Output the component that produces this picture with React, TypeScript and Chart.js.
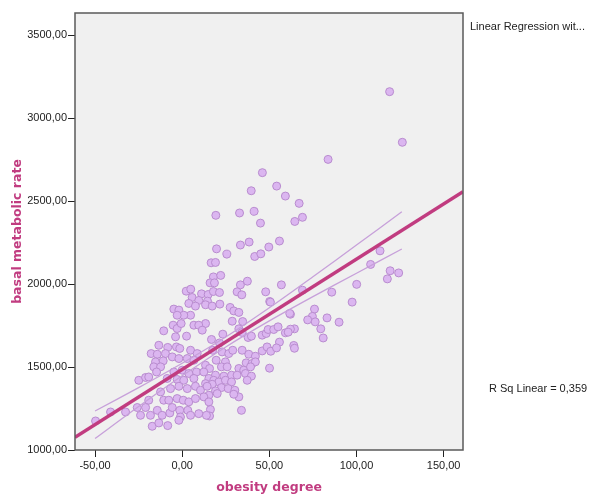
import React, { useEffect, useRef } from "react";
import { Chart, registerables } from "chart.js";

Chart.register(...registerables);

// obesity degree (x) and basal metabolic rate (y) of the observations
const obesity: number[] = [
  119, 126.3, 83.7, 67.1, 64.6, 69, 113.5, 108.1, 119.3, 124.2, 117.7, 100.1, 85.8, 69, 97.5, 75.9, 74.7, 72, 76.3, 83.1, 90, 79.5, 80.9, 62.1, 64.4, 62.1, 64, 64.4,
  46, 54.2, 39.6, 59.2, 19.3, 32.9, 41.3, 44.9, 33.4, 38.4, 55.8, 19.7, 25.6, 49.7, 41.6, 45.1, 16.6, 19.1, 17.9, 22.1, 16, 18.5, 2.3, 4.9, 11.1, 14.9, 17.9, 21.4, 33.4, 37.4, 31.5, 34.2, 47.9, 56.9, 5.7, 9.5, 14.5, 50.2,
  13.4, 17.2, 21.6, 27.5, 29.6, 32.5, 50.6, 28.7, 34.7, 61.7, 13.4, 16.8, 21.4, 23.3, 32.5, 34.4, 37.8, 39.7, 45.9, 48.2, 49.3, 52.5, 55, 59.2, 60.8, 55.8, 45.9, 48.7, 50.8, 54.1, 17.5, 22.9, 26.7, 29, 34.4, 38.2, 42, 19.5, 24.8, 36.7, 40.1, 42, 50.1, 13.4, 15.7, 22.5, 25.8, 32.5, 35.3, 39.2, 19.1, 23.9, 28.3, 31.5, 36.3, 39.7, 15.3, 18.1, 21, 24.8, 28.3, 37.3, 13.4, 17.2, 22.5, 26.4, 30.2, 32.5, 29.6, 19.1, 15.3, 20.1, 16.2, 34, 15.7,
  -4.8, -1.9, 3.8, 7.6, 4.8, 0.9, -2.9, -5.2, -2.9, -0.6, 6.7, 9.5, 11.5, -10.6, -3.8, 2.5, -13.4, -8.3, -3.3, -1.4, 4.8, 8.6, -17.8, -14.3, -9.6, -5.7, -1.9, 2.9, 6.7, -15.3, -10.9, -16.3, -12.4, -14.7, -24.9, -21, -19.2, -4.8, 0, 3.8, 8.2, 12.4, -8.6, -2.9, 0.9, 6.7, -12.4, -6.7, -1.9, 2.9, 7.6, 10.5, 14.3, -10.6, -7.7, -2.9, 0.6, 3.8, 7.6, 12.4, 15.3, -19.2, -21, -23.9, -18.2, -14.3, -11.5, -7.1, -5.7, -1.4, -1, 3.2, 4.8, 9.5, 13.9, -17.2, -13.4, -8.3, -1.9, -25.8, -32.5, -41.1, -49.7,
];
const bmr: number[] = [
  3159, 2854, 2751, 2486, 2377, 2402, 2200, 2118, 2080, 2067, 2031, 1998, 1951, 1963, 1891, 1849, 1805, 1784, 1772, 1796, 1770, 1730, 1675, 1818, 1730, 1728, 1630, 1613,
  2671, 2590, 2562, 2530, 2414, 2428, 2438, 2367, 2235, 2253, 2259, 2212, 2180, 2223, 2166, 2182, 2128, 2130, 2043, 2052, 2007, 2007, 1957, 1969, 1941, 1937, 1955, 1949, 1995, 2017, 1953, 1935, 1953, 1995, 1919, 1901, 1897, 1895,
  1875, 1867, 1879, 1859, 1838, 1829, 1891, 1776, 1774, 1823, 1762, 1666, 1645, 1698, 1730, 1708, 1678, 1686, 1692, 1702, 1726, 1726, 1742, 1706, 1710, 1650, 1597, 1621, 1595, 1615, 1601, 1591, 1581, 1601, 1601, 1577, 1565, 1541, 1531, 1525, 1521, 1531, 1493, 1511, 1491, 1501, 1501, 1491, 1481, 1501, 1451, 1445, 1451, 1451, 1461, 1445, 1431, 1420, 1410, 1420, 1410, 1420, 1400, 1396, 1376, 1370, 1360, 1320, 1336, 1356, 1330, 1340, 1244, 1239, 1205,
  1849, 1843, 1883, 1867, 1812, 1812, 1812, 1752, 1732, 1762, 1752, 1752, 1722, 1718, 1682, 1686, 1631, 1618, 1621, 1612, 1601, 1581, 1581, 1577, 1581, 1561, 1551, 1551, 1541, 1531, 1537, 1501, 1501, 1470, 1420, 1437, 1440, 1470, 1481, 1461, 1470, 1470, 1431, 1425, 1420, 1431, 1350, 1370, 1384, 1370, 1384, 1360, 1384, 1300, 1300, 1310, 1300, 1290, 1310, 1320, 1290, 1300, 1256, 1209, 1209, 1239, 1209, 1223, 1256, 1239, 1199, 1239, 1209, 1219, 1209, 1143, 1163, 1147, 1179, 1256, 1229, 1229, 1175,
];

// fitted regression line (end points at the axis limits)
const fitX: number[] = [-61.5, 161.1];
const fitY: number[] = [1076, 2556];

// 95% confidence band of the mean
const ciX: number[] = [-50, -25, 0, 25, 50, 75, 100, 126];
const ciUpper: number[] = [1235, 1376, 1523, 1681, 1857, 2044, 2235, 2435];
const ciLower: number[] = [1069, 1262, 1447, 1621, 1778, 1924, 2065, 2211];

// axis ticks
const xTicks: number[] = [-50, 0, 50, 100, 150];
const yTicks: number[] = [1000, 1500, 2000, 2500, 3000, 3500];

const xTitle = "obesity degree";
const yTitle = "basal metabolic rate";
const fitLabel = "Linear Regression wit...";
const rsqLabel = "R Sq Linear = 0,359";

const X_MIN = -61.5;
const X_MAX = 161.1;
const Y_MIN = 1000;
const Y_MAX = 3633;

const fmt = (v: number | string) => Number(v).toFixed(2).replace(".", ",");

export default function App() {
  const ref = useRef<HTMLCanvasElement | null>(null);

  useEffect(() => {
    document.body.style.margin = "0";
    const canvas = ref.current;
    if (!canvas) return;

    const framePlugin = {
      id: "spssFrame",
      beforeDraw(chart: any) {
        const { ctx, chartArea: a } = chart;
        ctx.save();
        ctx.fillStyle = "#ffffff";
        ctx.fillRect(0, 0, chart.width, chart.height);
        ctx.fillStyle = "#f0f0f0";
        ctx.fillRect(a.left, a.top, a.right - a.left, a.bottom - a.top);
        ctx.restore();
      },
      afterDraw(chart: any) {
        const { ctx, chartArea: a } = chart;
        ctx.save();
        ctx.strokeStyle = "#5a5a5a";
        ctx.lineWidth = 1.5;
        ctx.strokeRect(a.left, a.top, a.right - a.left, a.bottom - a.top);
        ctx.fillStyle = "#222222";
        ctx.font = "11px 'Liberation Sans', Arial, sans-serif";
        ctx.textBaseline = "middle";
        ctx.textAlign = "left";
        ctx.fillText(fitLabel, 470, 27);
        ctx.fillText(rsqLabel, 489, 389);
        ctx.restore();
      },
    };

    const points = obesity.map((x, i) => ({ x, y: bmr[i] }));
    const fit = fitX.map((x, i) => ({ x, y: fitY[i] }));
    const up = ciX.map((x, i) => ({ x, y: ciUpper[i] }));
    const lo = ciX.map((x, i) => ({ x, y: ciLower[i] }));

    const tickFont = { family: "'Liberation Sans', Arial, sans-serif", size: 11 };
    const titleFont = { family: "'DejaVu Sans', Verdana, sans-serif", size: 12.5, weight: "bold" as const };
    const titleColor = "#c13c80";

    const chart = new Chart(canvas, {
      type: "scatter",
      data: {
        datasets: [
          {
            data: fit,
            showLine: true,
            borderColor: "#c13c80",
            borderWidth: 3.5,
            pointRadius: 0,
          },
          {
            data: up,
            showLine: true,
            borderColor: "#c7a0da",
            borderWidth: 1.3,
            pointRadius: 0,
            tension: 0.3,
          },
          {
            data: lo,
            showLine: true,
            borderColor: "#c7a0da",
            borderWidth: 1.3,
            pointRadius: 0,
            tension: 0.3,
          },
          {
            data: points,
            pointRadius: 4,
            borderWidth: 1,
            backgroundColor: "#dbb6f0",
            borderColor: "#b98ccf",
          },
        ],
      },
      options: {
        responsive: false,
        animation: false,
        events: [],
        layout: { padding: { left: 0, top: 13, right: 142, bottom: 0 } },
        plugins: { legend: { display: false }, tooltip: { enabled: false } },
        scales: {
          x: {
            type: "linear",
            min: X_MIN,
            max: X_MAX,
            afterBuildTicks: (s: any) => {
              s.ticks = xTicks.map((value) => ({ value }));
            },
            afterFit: (s: any) => {
              s.height = 46;
            },
            ticks: {
              maxRotation: 0,
              autoSkip: false,
              color: "#222",
              font: tickFont,
              padding: 2,
              callback: (v: any) => fmt(v),
            },
            grid: { drawOnChartArea: false, drawTicks: true, tickLength: 7, color: "#222", lineWidth: 1 },
            border: { display: false },
            title: { display: true, text: xTitle, color: titleColor, font: titleFont, padding: { top: 0, bottom: 1 } },
          },
          y: {
            type: "linear",
            min: Y_MIN,
            max: Y_MAX,
            afterBuildTicks: (s: any) => {
              s.ticks = yTicks.map((value) => ({ value }));
            },
            afterFit: (s: any) => {
              s.width = 75;
            },
            ticks: {
              autoSkip: false,
              color: "#222",
              font: tickFont,
              padding: 1,
              callback: (v: any) => fmt(v),
            },
            grid: { drawOnChartArea: false, drawTicks: true, tickLength: 7, color: "#222", lineWidth: 1 },
            border: { display: false },
            title: { display: true, text: yTitle, color: titleColor, font: titleFont, padding: { top: 10, bottom: 0 } },
          },
        },
      },
      plugins: [framePlugin],
    } as any);

    return () => chart.destroy();
  }, []);

  return <canvas ref={ref} width={605} height={496} style={{ display: "block" }} />;
}
